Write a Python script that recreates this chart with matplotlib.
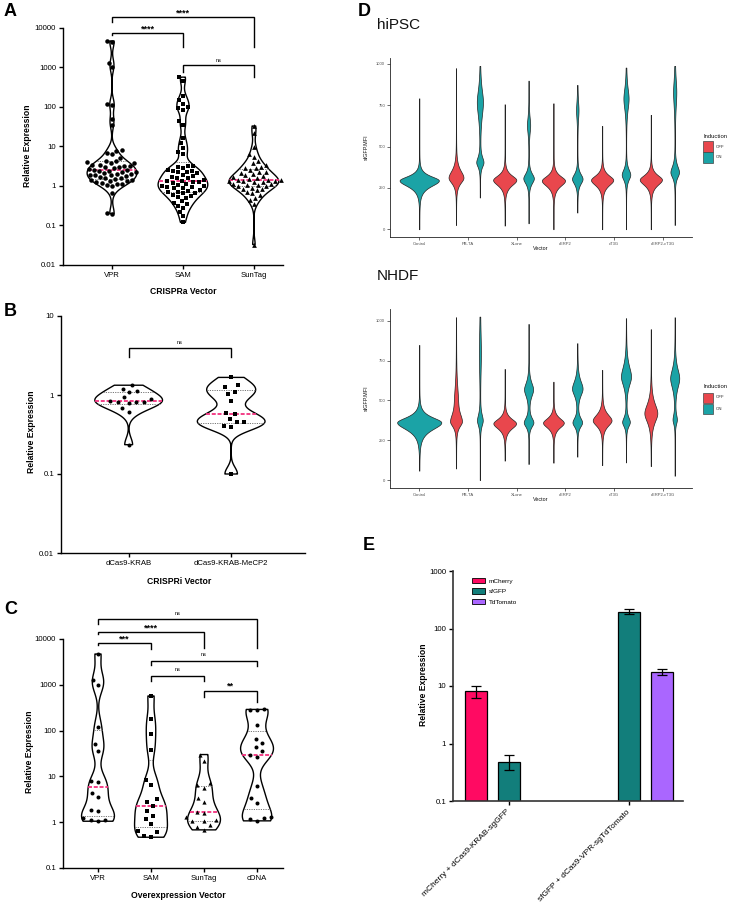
import numpy as np
import matplotlib
matplotlib.use('Agg')
import matplotlib.pyplot as plt
from matplotlib.lines import Line2D
from matplotlib.patches import Rectangle, Patch
from matplotlib.ticker import FixedLocator, FixedFormatter, NullLocator

plt.rcParams['font.family'] = ['Liberation Sans', 'DejaVu Sans']

# ---------------- data: panel A (CRISPRa) ----------------
A_categories = ['VPR', 'SAM', 'SunTag']
A_vpr = [4700, 4300, 1300, 1000, 120, 115, 50, 36,
         8.2, 7.9, 6.9, 6.5, 5.0, 4.4, 4.2, 4.0, 3.9, 3.8,
         3.5, 3.4, 3.3, 3.2, 3.1, 3.0, 2.9, 2.7, 2.6, 2.5, 2.45, 2.4, 2.3,
         2.2, 2.1, 2.05, 2.0, 1.95, 1.9, 1.85, 1.8,
         1.65, 1.6, 1.55, 1.5, 1.45, 1.4, 1.35, 1.3,
         1.25, 1.2, 1.15, 1.1, 1.05, 1.0, 0.68, 0.21, 0.2]
A_sam = [570, 460, 185, 150, 120, 100, 95, 85, 43, 35, 16, 12, 9.0, 7.4, 6.5,
         3.3, 3.2, 3.0, 2.9, 2.5, 2.45, 2.4, 2.3, 2.2, 2.1,
         1.85, 1.75, 1.7, 1.6, 1.55,
         1.4, 1.35, 1.3, 1.28, 1.25, 1.2, 1.15,
         1.05, 1.0, 0.98, 0.95, 0.92, 0.9, 0.88,
         0.8, 0.76, 0.72, 0.7, 0.68, 0.65,
         0.58, 0.55, 0.52, 0.5, 0.42, 0.38, 0.36, 0.31, 0.28, 0.22, 0.17, 0.12]
A_suntag = [33, 22, 9.5, 6.5, 5.5, 4.2, 3.8, 3.5, 3.0, 2.9, 2.8, 2.6,
            2.3, 2.2, 2.1, 2.0, 1.85, 1.75, 1.7, 1.6, 1.5, 1.45,
            1.42, 1.38, 1.36, 1.34, 1.3, 1.28, 1.25,
            1.15, 1.1, 1.08, 1.05, 1.02, 1.0, 0.9, 0.85, 0.82, 0.78,
            0.7, 0.65, 0.6, 0.5, 0.45, 0.36, 0.033]

# ---------------- data: panel B (CRISPRi) ----------------
B_categories = ['dCas9-KRAB', 'dCas9-KRAB-MeCP2']
B_krab = [1.33, 1.18, 1.13, 1.08, 0.94, 0.89, 0.80, 0.81, 0.81, 0.82, 0.84, 0.68, 0.61, 0.235]
B_mecp2 = [1.67, 1.34, 1.27, 1.10, 1.03, 0.85, 0.57, 0.59, 0.49, 0.45, 0.45, 0.39, 0.40, 0.10]

# ---------------- data: panel C (overexpression) ----------------
C_categories = ['VPR', 'SAM', 'SunTag', 'cDNA']
C_vpr = [4700, 1300, 1000, 122, 51, 36, 8.0, 7.5, 4.4, 3.6, 1.86, 1.75, 1.25, 1.12, 1.1, 1.05]
C_sam = [570, 176, 85, 38, 8.5, 6.5, 3.2, 2.8, 2.3, 1.8, 1.4, 1.2, 0.9, 0.65, 0.6, 0.5, 0.47]
C_suntag = [30, 22, 7.1, 6.5, 5.5, 3.3, 2.7, 1.7, 1.6, 1.3, 1.1, 1.07, 1.05, 0.85, 0.8, 0.68]
C_cdna = [290, 285, 280, 130, 67, 54, 43, 35, 30, 27, 6.2, 3.3, 2.6, 1.3, 1.25, 1.2, 1.07]

# ---------------- data: panel D (sfGFP MFI violins) ----------------
D_vectors = ['Control', 'PB-TA', 'XLone', 'cERP2', 'cT3G', 'cERP2-cT3G']
D_induction = ['OFF', 'ON']
# each violin: data range (lo, hi) and density modes (centre, spread below, spread above, peak half-width)
hipsc_off_lo = [None, 26, 22, 0, 0, 0]
hipsc_off_hi = [None, 974, 756, 762, 625, 692]
hipsc_off_modes = [None,
                   [(312, 30, 40, 0.15)],
                   [(298, 30, 26, 0.235)],
                   [(294, 30, 26, 0.235)],
                   [(298, 30, 26, 0.225)],
                   [(300, 30, 26, 0.225)]]
hipsc_on_lo = [0, 192, 36, 101, 0, 26]
hipsc_on_hi = [792, 988, 899, 873, 978, 988]
hipsc_on_modes = [[(295, 32, 24, 0.40)],
                  [(405, 25, 30, 0.07), (770, 80, 70, 0.06)],
                  [(308, 28, 28, 0.105), (630, 45, 45, 0.03)],
                  [(305, 28, 28, 0.105), (720, 50, 50, 0.022)],
                  [(330, 28, 30, 0.085), (790, 60, 60, 0.05)],
                  [(345, 28, 35, 0.085), (830, 80, 70, 0.03)]]
nhdf_off_lo = [None, 73, 122, 109, 94, 88]
nhdf_off_hi = [None, 1023, 698, 618, 692, 948]
nhdf_off_modes = [None,
                  [(368, 28, 45, 0.11), (520, 80, 80, 0.03)],
                  [(356, 30, 27, 0.23)],
                  [(360, 28, 27, 0.21)],
                  [(375, 32, 35, 0.19)],
                  [(420, 50, 55, 0.13)]]
nhdf_on_lo = [59, 0, 101, 147, 111, 27]
nhdf_on_hi = [849, 1027, 981, 860, 1017, 1023]
nhdf_on_modes = [[(362, 40, 30, 0.45)],
                 [(375, 30, 35, 0.055), (800, 120, 120, 0.018)],
                 [(362, 25, 28, 0.095), (570, 40, 40, 0.09)],
                 [(362, 25, 28, 0.095), (575, 40, 45, 0.105)],
                 [(365, 25, 28, 0.075), (650, 50, 60, 0.10)],
                 [(380, 25, 30, 0.04), (640, 55, 55, 0.09)]]

# ---------------- data: panel E (bars) ----------------
E_groups = ['mCherry + dCas9-KRAB-sgGFP', 'sfGFP + dCas9-VPR-sgTdTomato']
E_series = ['mCherry', 'sfGFP', 'TdTomato']
E_mcherry_mean = [8.1, np.nan]
E_mcherry_sem = [2.0, np.nan]
E_sfgfp_mean = [0.48, 197]
E_sfgfp_sem = [0.14, 20]
E_tdtomato_mean = [np.nan, 17.6]
E_tdtomato_sem = [np.nan, 1.8]

# ---------------- figure helpers ----------------
W, H = 733, 902
fig = plt.figure(figsize=(W / 100, H / 100), dpi=100)


def add_ax(l, t, r, b):
    return fig.add_axes([l / W, 1 - b / H, (r - l) / W, (b - t) / H])


def ftext(x, y, s, **kw):
    fig.text(x / W, 1 - y / H, s, **kw)


def fline(xs, ys, **kw):
    fig.add_artist(Line2D([x / W for x in xs], [1 - y / H for y in ys],
                          transform=fig.transFigure, **kw))


def prism_axes(ax, ylim, yticks, ylabels, cats, xlim):
    ax.set_yscale('log')
    ax.set_ylim(*ylim)
    ax.set_xlim(*xlim)
    ax.yaxis.set_major_locator(FixedLocator(yticks))
    ax.yaxis.set_major_formatter(FixedFormatter(ylabels))
    ax.yaxis.set_minor_locator(NullLocator())
    ax.set_xticks(range(len(cats)))
    ax.set_xticklabels(cats)
    for s in ['top', 'right']:
        ax.spines[s].set_visible(False)
    for s in ['left', 'bottom']:
        ax.spines[s].set_linewidth(1.0)
        ax.spines[s].set_color('black')
    ax.tick_params(axis='both', labelsize=5.6, width=1.0, length=3, pad=2, colors='black')
    ax.patch.set_alpha(0)


def swarm_x(ax, xc, vals, diam):
    vals = np.asarray(vals, float)
    pts = ax.transData.transform(np.column_stack([np.full(len(vals), xc), vals]))
    ys = pts[:, 1]
    x0 = pts[0, 0]
    order = np.argsort(ys)
    placed = []
    xs = np.zeros(len(vals))
    for i in order:
        y = ys[i]
        cands = [0.0]
        for (px, py) in placed:
            dy = y - py
            if abs(dy) < diam:
                dx = np.sqrt(diam ** 2 - dy ** 2)
                cands += [px - x0 + dx, px - x0 - dx]
        cands = sorted(cands, key=lambda c: (abs(c), c))
        chosen = cands[-1]
        for c in cands:
            if all((x0 + c - px) ** 2 + (y - py) ** 2 >= diam ** 2 - 1e-6 for px, py in placed):
                chosen = c
                break
        placed.append((x0 + chosen, y))
        xs[i] = x0 + chosen
    return ax.transData.inverted().transform(np.column_stack([xs, ys]))[:, 0]


def prism_violin(ax, xc, vals, bw, hw, marker, diam, spacing):
    vals = np.asarray(vals, float)
    lv = np.log10(vals)
    grid = np.linspace(lv.min(), lv.max(), 400)
    dens = np.exp(-0.5 * ((grid[:, None] - lv[None, :]) / bw) ** 2).sum(1)
    w = dens / dens.max() * hw
    y = 10 ** grid
    xs = np.concatenate([xc - w, (xc + w)[::-1]])
    ys = np.concatenate([y, y[::-1]])
    ax.fill(xs, ys, facecolor='white', edgecolor='black', lw=1.0, zorder=2, joinstyle='round')
    q1, med, q3 = np.percentile(vals, [25, 50, 75], method='weibull')
    for q, col, lw, dash in [(q1, '#777777', 0.7, (1.2, 1.2)), (q3, '#777777', 0.7, (1.2, 1.2)),
                             (med, '#F2307E', 1.3, (2.2, 1.0))]:
        wq = np.interp(np.log10(q), grid, w)
        ax.plot([xc - wq, xc + wq], [q, q], color=col, lw=lw, dashes=dash, zorder=3)
    xp = swarm_x(ax, xc, vals, spacing)
    ms = diam * 0.72
    if marker == 's':
        ms *= 0.9
    if marker == '^':
        ms *= 1.05
    ax.plot(xp, vals, ls='none', marker=marker, ms=ms, mfc='black', mec='black', mew=0, zorder=4)


def cat_px(ax, i):
    return ax.transData.transform((i, ax.get_ylim()[0]))[0]


def bracket(ax, i, j, y, yl, yr, label, ty, size, bold):
    xi, xj = cat_px(ax, i), cat_px(ax, j)
    fline([xi, xi, xj, xj], [yl, y, y, yr], color='black', lw=1.0, solid_joinstyle='miter')
    ftext((xi + xj) / 2, ty, label, ha='center', va='center', fontsize=size,
          fontweight='bold' if bold else 'normal')


# ================= Panel A =================
axA = add_ax(63, 28, 283, 265)
prism_axes(axA, (0.01, 10000), [0.01, 0.1, 1, 10, 100, 1000, 10000],
           ['0.01', '0.1', '1', '10', '100', '1000', '10000'], A_categories, (-0.69, 2.41))
for i, (vals, mk) in enumerate([(A_vpr, 'o'), (A_sam, 's'), (A_suntag, '^')]):
    prism_violin(axA, i, vals, 0.15, 0.35, mk, 4.5, 5.4)
ftext(28, 146, 'Relative Expression', rotation=90, ha='center', va='center', fontsize=6.2, fontweight='bold')
ftext(183, 292, 'CRISPRa Vector', ha='center', va='center', fontsize=6.2, fontweight='bold')
bracket(axA, 0, 2, 17.3, 21.7, 46.7, '****', 13.5, 6.5, True)
bracket(axA, 0, 1, 33.3, 35.0, 46.7, '****', 29.5, 6.5, True)
bracket(axA, 1, 2, 65.0, 71.7, 77.3, 'ns', 60.0, 4.0, False)
ftext(4, 11, 'A', ha='left', va='center', fontsize=13, fontweight='bold')

# ================= Panel B =================
axB = add_ax(61, 316, 305, 553)
prism_axes(axB, (0.01, 10), [0.01, 0.1, 1, 10], ['0.01', '0.1', '1', '10'], B_categories, (-0.66, 1.72))
for i, (vals, mk) in enumerate([(B_krab, 'o'), (B_mecp2, 's')]):
    prism_violin(axB, i, vals, 0.085, 0.33, mk, 4.0, 7.5)
ftext(31, 432, 'Relative Expression', rotation=90, ha='center', va='center', fontsize=6.2, fontweight='bold')
ftext(179, 581, 'CRISPRi Vector', ha='center', va='center', fontsize=6.2, fontweight='bold')
bracket(axB, 0, 1, 348.3, 357.3, 357.3, 'ns', 342.5, 4.0, False)
ftext(4, 311, 'B', ha='left', va='center', fontsize=13, fontweight='bold')

# ================= Panel C =================
axC = add_ax(63, 639, 283, 868)
prism_axes(axC, (0.1, 10000), [0.1, 1, 10, 100, 1000, 10000],
           ['0.1', '1', '10', '100', '1000', '10000'], C_categories, (-0.66, 3.49))
for i, (vals, mk) in enumerate([(C_vpr, 'o'), (C_sam, 's'), (C_suntag, '^'), (C_cdna, 'o')]):
    prism_violin(axC, i, vals, 0.22, 0.31, mk, 4.0, 7.5)
ftext(29, 752, 'Relative Expression', rotation=90, ha='center', va='center', fontsize=6.2, fontweight='bold')
ftext(178, 895, 'Overexpression Vector', ha='center', va='center', fontsize=6.2, fontweight='bold')
bracket(axC, 0, 3, 619.3, 624.0, 648.3, 'ns', 613.5, 4.0, False)
bracket(axC, 0, 2, 632.3, 633.5, 648.3, '****', 628.0, 6.5, True)
bracket(axC, 0, 1, 643.3, 644.5, 649.0, '***', 639.5, 6.5, True)
bracket(axC, 1, 3, 660.7, 665.0, 665.7, 'ns', 654.0, 4.0, False)
bracket(axC, 1, 2, 676.0, 681.0, 681.0, 'ns', 669.5, 4.0, False)
bracket(axC, 2, 3, 690.7, 696.7, 701.7, '**', 686.5, 6.5, True)
ftext(4, 609, 'C', ha='left', va='center', fontsize=13, fontweight='bold')

# ================= Panel D =================
D_colors = ['#E9474D', '#1BA3A6']


def gg_violin(ax, xc, modes, lo, hi, color):
    y = np.linspace(lo, hi, 600)
    w = np.full_like(y, 0.003)
    for c, s_lo, s_hi, amp in modes:
        s = np.where(y < c, s_lo, s_hi)
        w += amp / np.cosh((y - c) / s)
    ax.fill_betweenx(y, xc - w, xc + w, facecolor=color, edgecolor='#222222', lw=0.5, zorder=2)


def gg_panel(top, bottom, ylim, title, on_lo, on_hi, on_modes, off_lo, off_hi, off_modes, leg_y):
    ax = add_ax(390, top, 692, bottom)
    ax.set_xlim(-0.6, 5.6)
    ax.set_ylim(*ylim)
    ax.set_xticks(range(len(D_vectors)))
    ax.set_xticklabels(D_vectors)
    ax.set_yticks([0, 250, 500, 750, 1000])
    for s in ['top', 'right']:
        ax.spines[s].set_visible(False)
    for s in ['left', 'bottom']:
        ax.spines[s].set_linewidth(0.6)
        ax.spines[s].set_color('#222222')
    ax.tick_params(labelsize=3.0, length=2, width=0.5, colors='#333333', labelcolor='#4D4D4D', pad=1.5)
    ax.patch.set_alpha(0)
    off = 0.245
    for i in range(len(D_vectors)):
        if off_modes[i] is None:
            gg_violin(ax, i, on_modes[i], on_lo[i], on_hi[i], D_colors[1])
        else:
            gg_violin(ax, i - off, off_modes[i], off_lo[i], off_hi[i], D_colors[0])
            gg_violin(ax, i + off, on_modes[i], on_lo[i], on_hi[i], D_colors[1])
    ftext(377, top - 33, title, ha='left', va='center', fontsize=11, color='#111111')
    ftext(366, (top + bottom) / 2, 'sfGFP.MFI', rotation=90, ha='center', va='center', fontsize=3.9, color='#111111')
    ftext(541, bottom + 11.5, 'Vector', ha='center', va='center', fontsize=3.9, color='#111111')
    ftext(703, leg_y, 'Induction', ha='left', va='center', fontsize=4.2, color='#111111')
    for k, lab in enumerate(D_induction):
        y0 = leg_y + 5.5 + k * 11
        fig.add_artist(Rectangle((703 / W, 1 - (y0 + 10) / H), 10 / W, 10 / H, transform=fig.transFigure,
                                 facecolor=D_colors[k], edgecolor='#444444', lw=0.5))
        ftext(716, y0 + 5, lab, ha='left', va='center', fontsize=3.1, color='#222222')
    return ax


gg_panel(58, 237, (-47, 1036), 'hiPSC', hipsc_on_lo, hipsc_on_hi, hipsc_on_modes,
         hipsc_off_lo, hipsc_off_hi, hipsc_off_modes, 136)
gg_panel(309, 488, (-50, 1075), 'NHDF', nhdf_on_lo, nhdf_on_hi, nhdf_on_modes,
         nhdf_off_lo, nhdf_off_hi, nhdf_off_modes, 387)
ftext(358, 12, 'D', ha='left', va='center', fontsize=13, fontweight='bold')

# ================= Panel E =================
axE = add_ax(453, 571, 683, 801)
axE.set_yscale('log')
axE.set_ylim(0.1, 1000)
axE.set_xlim(-0.467, 1.45)
axE.yaxis.set_major_locator(FixedLocator([0.1, 1, 10, 100, 1000]))
axE.yaxis.set_major_formatter(FixedFormatter(['0.1', '1', '10', '100', '1000']))
axE.yaxis.set_minor_locator(NullLocator())
for s in ['top', 'right']:
    axE.spines[s].set_visible(False)
for s in ['left', 'bottom']:
    axE.spines[s].set_linewidth(1.2)
    axE.spines[s].set_color('#333333')
axE.tick_params(axis='both', labelsize=5.6, width=1.0, length=3, pad=2, colors='black')
axE.patch.set_alpha(0)
E_colors = ['#FF0A62', '#127E7B', '#AA66FF']
E_offsets = [-0.275, 0.0, 0.275]
xg = np.arange(len(E_groups))
handles = []
for k, (name, mean, sem) in enumerate(zip(E_series,
                                          [E_mcherry_mean, E_sfgfp_mean, E_tdtomato_mean],
                                          [E_mcherry_sem, E_sfgfp_sem, E_tdtomato_sem])):
    mean = np.asarray(mean, float)
    sem = np.asarray(sem, float)
    axE.bar(xg + E_offsets[k], mean - 0.1, bottom=0.1, width=0.19, color=E_colors[k],
            edgecolor='black', lw=0.9, zorder=2)
    axE.errorbar(xg + E_offsets[k], mean, yerr=sem, fmt='none', ecolor='black', elinewidth=0.9,
                 capsize=3.8, capthick=0.9, zorder=3)
    handles.append(Patch(facecolor=E_colors[k], edgecolor='black', lw=0.6, label=name))
axE.set_xticks(xg)
axE.set_xticklabels(E_groups, rotation=45, ha='right', va='center', rotation_mode='anchor', fontsize=6.0)
axE.tick_params(axis='x', pad=4)
axE.legend(handles=handles, loc='upper left', bbox_to_anchor=(0.07, 0.985), frameon=False, fontsize=4.6,
           handlelength=2.0, handleheight=0.9, labelspacing=0.75, borderpad=0, handletextpad=0.6)
ftext(424, 685, 'Relative Expression', rotation=90, ha='center', va='center', fontsize=6.2, fontweight='bold')
ftext(363, 545, 'E', ha='left', va='center', fontsize=13, fontweight='bold')

fig.savefig('out.png', dpi=100)
